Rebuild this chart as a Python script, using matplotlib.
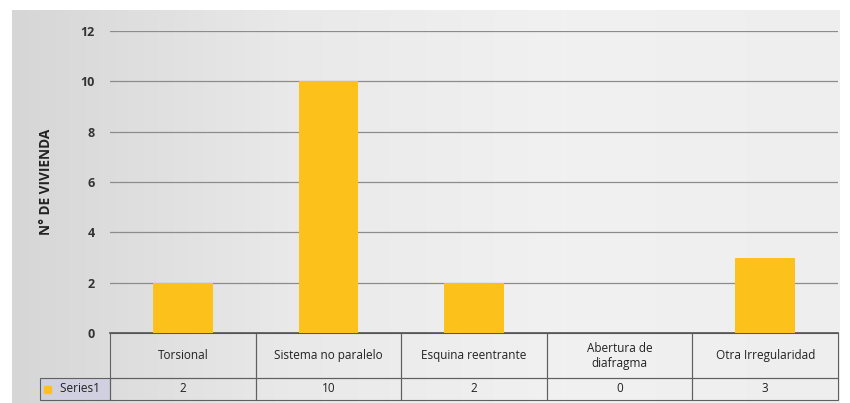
import numpy as np
import matplotlib
matplotlib.use('agg')
import matplotlib.pyplot as plt
from matplotlib.patches import Rectangle

categories = ['Torsional', 'Sistema no paralelo', 'Esquina reentrante',
              'Abertura de\ndiafragma', 'Otra Irregularidad']
values = [2, 10, 2, 0, 3]
series_name = 'Series1'
yticks = [0, 2, 4, 6, 8, 10, 12]

plt.rcParams['font.family'] = ['Open Sans', 'DejaVu Sans']
W, H = 850, 403
fig = plt.figure(figsize=(W / 100, H / 100), dpi=100)
fig.patch.set_facecolor('white')

# chart area background (light grey gradient, like the Excel chart)
bg = fig.add_axes([12 / W, 0, 828 / W, 393 / H])
grad = np.linspace(0, 1, 256).reshape(1, -1)
bg.imshow(grad, aspect='auto', cmap=matplotlib.colors.LinearSegmentedColormap.from_list(
    'g', ['#d6d6d6', '#e9e9e9', '#f1f1f1', '#eeeeee']), extent=[0, 1, 0, 1])
bg.set_axis_off()

x0, x1 = 110, 838
y_top, y_zero = 31, 333
ax = fig.add_axes([x0 / W, (H - y_zero) / H, (x1 - x0) / W, (y_zero - y_top) / H])
ax.patch.set_alpha(0)
x = np.arange(len(categories))
ax.bar(x, values, width=0.41, color='#fcc21b', zorder=3)
ax.set_xlim(-0.5, len(categories) - 0.5)
ax.set_ylim(0, 12)
ax.set_yticks(yticks)
ax.set_yticklabels([str(t) for t in yticks], fontsize=9, fontweight='bold', color='#333333')
ax.set_xticks([])
ax.tick_params(axis='y', length=0, pad=11)
ax.grid(axis='y', color='#8c8c8c', linewidth=0.9, zorder=0)
for s in ['top', 'right', 'left']:
    ax.spines[s].set_visible(False)
ax.spines['bottom'].set_color('#555555')
ax.spines['bottom'].set_linewidth(1.2)
ax.set_ylabel('N° DE VIVIENDA', fontsize=9.8, fontweight='bold', color='#222222', labelpad=20)

# data table below the axis
pw = x1 - x0
lab_w = 70
tab_h = 400 - y_zero
cell_text = [[''] + categories, [series_name] + [str(v) for v in values]]
tbl = ax.table(cellText=cell_text,
               colWidths=[lab_w / pw] + [1 / len(categories)] * len(categories),
               cellLoc='center',
               bbox=[-lab_w / pw, -tab_h / (y_zero - y_top), 1 + lab_w / pw, tab_h / (y_zero - y_top)])
tbl.auto_set_font_size(False)
for (r, c), cell in tbl.get_celld().items():
    cell.set_height(45 if r == 0 else 22)
    cell.set_edgecolor('#606060')
    cell.set_linewidth(0.8)
    cell.set_facecolor('none')
    cell.get_text().set_fontsize(8.5)
    cell.get_text().set_color('#222222')
    if r == 0 and c == 0:
        cell.set_edgecolor('none')
    if r == 1 and c == 0:
        cell.set_facecolor('#d0d0e0')
        cell.get_text().set_text('   ' + series_name)
        cell.get_text().set_ha('center')

# legend key in the row label
fig.patches.append(Rectangle((44 / W, (H - 393) / H), 7 / W, 7 / H, transform=fig.transFigure,
                             color='#fcc21b', zorder=5))

fig.savefig('out.png', dpi=100)
